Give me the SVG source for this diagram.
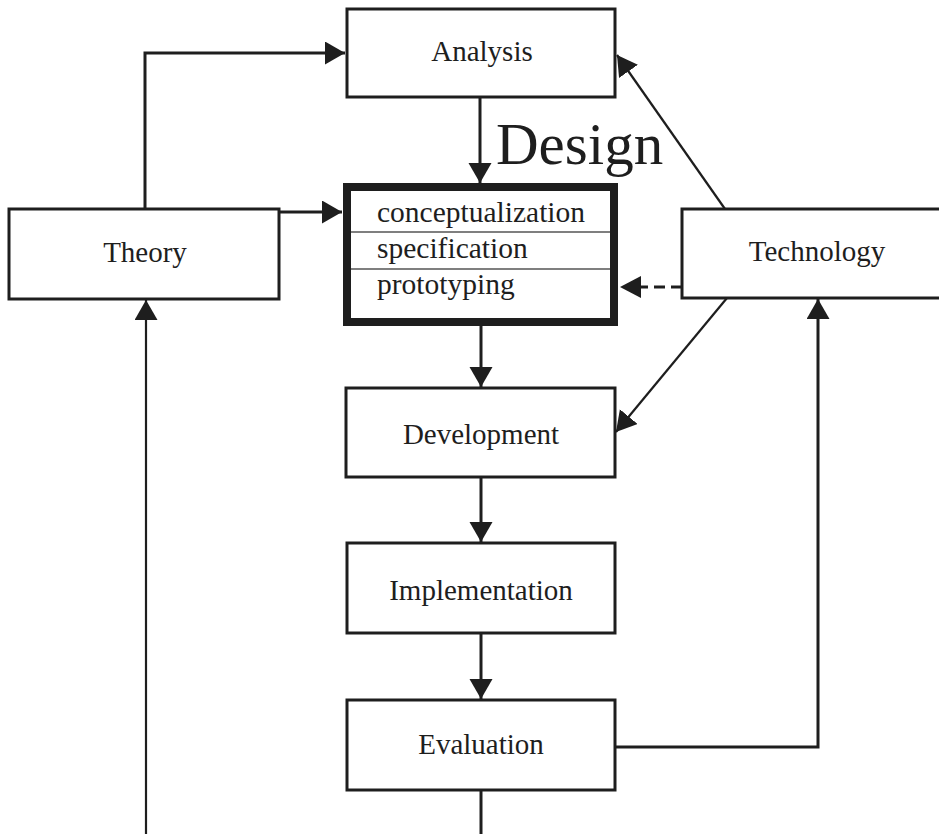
<svg xmlns="http://www.w3.org/2000/svg" width="939" height="834" viewBox="0 0 939 834">
  <style>
    .box { fill: #fff; stroke: #1e1e1e; stroke-width: 3; }
    .thick { fill: #fff; stroke: #1e1e1e; stroke-width: 8; }
    .div { stroke: #555; stroke-width: 1.5; }
    .lbl { font-family: "Liberation Serif", "Times New Roman", serif; font-size: 29px; fill: #1e1e1e; text-anchor: middle; }
    .sub { font-family: "Liberation Serif", "Times New Roman", serif; font-size: 29.5px; fill: #1e1e1e; }
    .big { font-family: "Liberation Serif", "Times New Roman", serif; font-size: 59px; fill: #1e1e1e; }
    .c { fill: none; stroke: #1e1e1e; stroke-width: 3; }
    .cthin { fill: none; stroke: #1e1e1e; stroke-width: 2.2; }
    .dash { fill: none; stroke: #1e1e1e; stroke-width: 3; stroke-dasharray: 11 6; }
  </style>
  <defs>
    <marker id="arr" markerUnits="userSpaceOnUse" markerWidth="22" markerHeight="24" refX="20" refY="11.5" orient="auto" viewBox="0 0 22 24">
      <path d="M0,0 L20,11.5 L0,23 Z" fill="#1e1e1e"/>
    </marker>
  </defs>

  <rect width="939" height="834" fill="#fff"/>

  <g id="connectors">
    <!-- Theory -> Analysis -->
    <polyline class="c" points="145,209 145,53 345,53" marker-end="url(#arr)"/>
    <!-- Theory -> Design -->
    <line class="c" x1="279" y1="212" x2="342" y2="212" marker-end="url(#arr)"/>
    <!-- Analysis -> Design -->
    <line class="c" x1="480" y1="97" x2="480" y2="183" marker-end="url(#arr)"/>
    <!-- Design -> Development -->
    <line class="c" x1="481" y1="326" x2="481" y2="387" marker-end="url(#arr)"/>
    <!-- Development -> Implementation -->
    <line class="c" x1="481" y1="477" x2="481" y2="542" marker-end="url(#arr)"/>
    <!-- Implementation -> Evaluation -->
    <line class="c" x1="481" y1="633" x2="481" y2="699" marker-end="url(#arr)"/>
    <!-- Evaluation bottom -->
    <line class="c" x1="481" y1="790" x2="481" y2="834"/>
    <!-- bottom loop -> Theory -->
    <line class="cthin" x1="146" y1="834" x2="146" y2="300" marker-end="url(#arr)"/>
    <!-- Evaluation -> Technology -->
    <polyline class="c" points="615,747 818,747 818,299" marker-end="url(#arr)"/>
    <!-- Technology -> Analysis -->
    <line class="cthin" x1="725" y1="209" x2="617" y2="55" marker-end="url(#arr)"/>
    <!-- Technology -> Development -->
    <line class="cthin" x1="727" y1="298" x2="616" y2="432" marker-end="url(#arr)"/>
    <!-- Technology -> Design (dashed) -->
    <line class="dash" x1="682" y1="287" x2="640" y2="287"/>
    <path d="M620,287 L641,276 L641,298 Z" fill="#1e1e1e"/>
  </g>

  <g id="analysis">
    <rect class="box" x="347" y="9" width="268" height="88"/>
    <text class="lbl" x="482" y="61">Analysis</text>
  </g>

  <g id="design-label">
    <text class="big" x="496" y="164">Design</text>
  </g>

  <g id="design">
    <rect class="thick" x="347" y="187" width="267" height="135"/>
    <line class="div" x1="351" y1="232" x2="610" y2="232"/>
    <line class="div" x1="351" y1="269" x2="610" y2="269"/>
    <text class="sub" x="377" y="222">conceptualization</text>
    <text class="sub" x="377" y="258">specification</text>
    <text class="sub" x="377" y="294">prototyping</text>
  </g>

  <g id="theory">
    <rect class="box" x="9" y="209" width="270" height="90"/>
    <text class="lbl" x="145" y="262">Theory</text>
  </g>

  <g id="technology">
    <rect class="box" x="682" y="209" width="262" height="89"/>
    <text class="lbl" x="817" y="261">Technology</text>
  </g>

  <g id="development">
    <rect class="box" x="346" y="388" width="269" height="89"/>
    <text class="lbl" x="481" y="444">Development</text>
  </g>

  <g id="implementation">
    <rect class="box" x="347" y="543" width="268" height="90"/>
    <text class="lbl" x="481" y="600">Implementation</text>
  </g>

  <g id="evaluation">
    <rect class="box" x="347" y="700" width="268" height="90"/>
    <text class="lbl" x="481" y="754">Evaluation</text>
  </g>
</svg>
